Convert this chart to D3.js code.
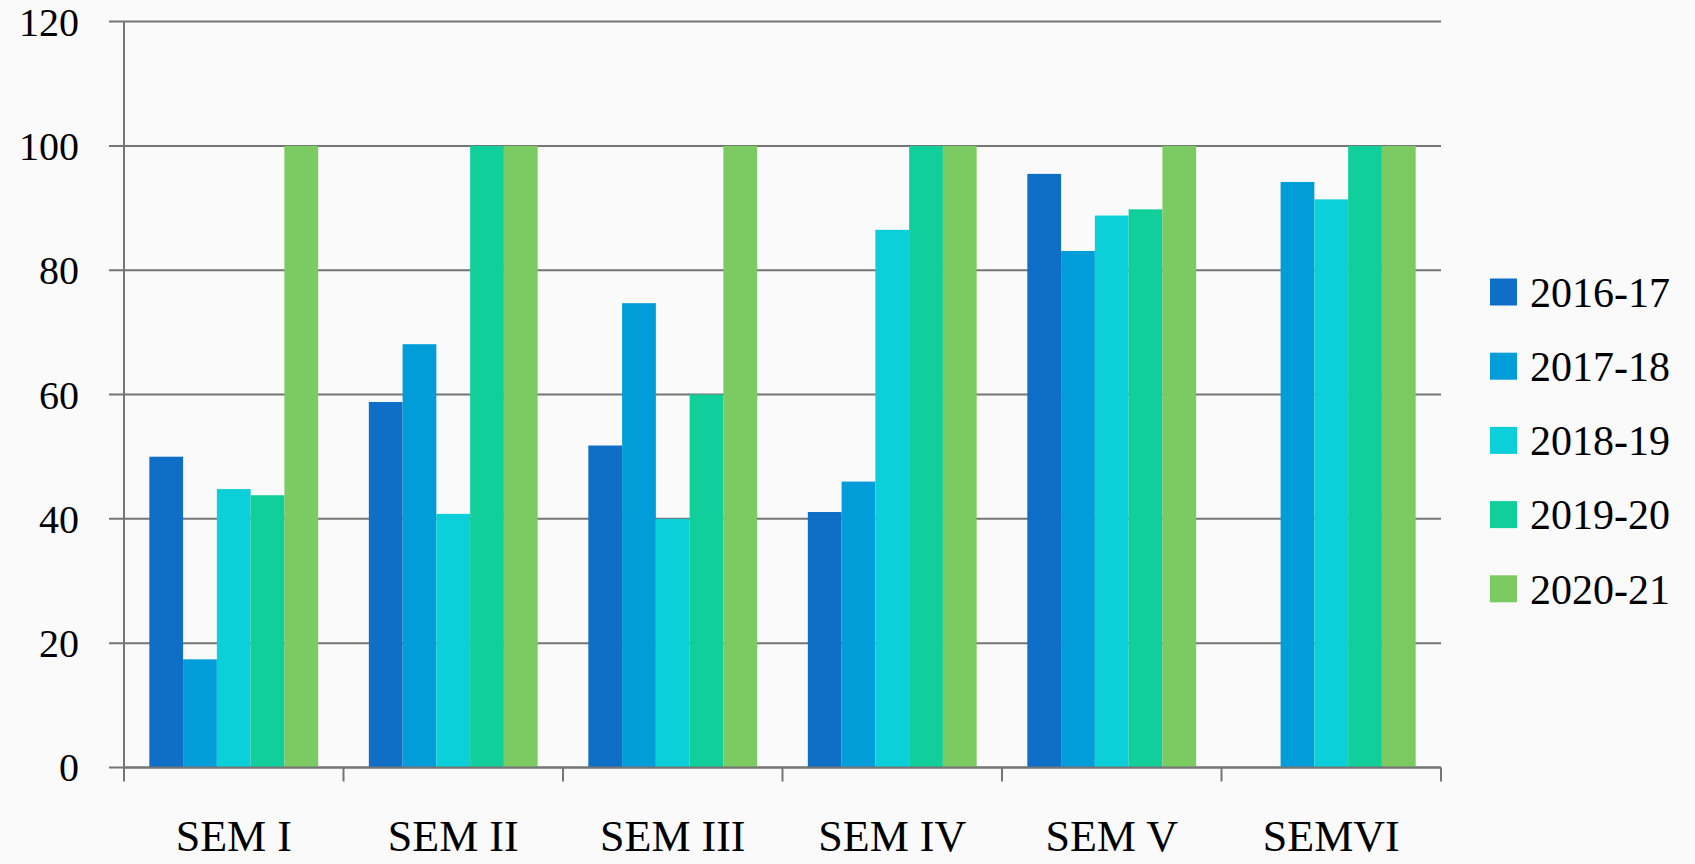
<!DOCTYPE html>
<html>
<head>
<meta charset="utf-8">
<script src="https://cdn.jsdelivr.net/npm/d3@7"></script>
<style>
  html, body { margin: 0; padding: 0; background: #fafafa; }
  svg { display: block; }
  text { font-family: "Liberation Serif", "DejaVu Serif", serif; fill: #000; }
</style>
</head>
<body>
<svg id="chart" width="1695" height="864"></svg>
<script>
// categories + series
var semesters = ["SEM I", "SEM II", "SEM III", "SEM IV", "SEM V", "SEMVI"];
var years = ["2016-17", "2017-18", "2018-19", "2019-20", "2020-21"];
var colors = ["#0f6fc6", "#009dd9", "#0bd0d9", "#10cf9b", "#7cca62"];
var yTicks = [0, 20, 40, 60, 80, 100, 120];

var v2016 = [50, 58.8, 51.8, 41.1, 95.5, null];
var v2017 = [17.4, 68.1, 74.7, 46.0, 83.1, 94.2];
var v2018 = [44.8, 40.8, 40, 86.5, 88.8, 91.4];
var v2019 = [43.8, 100, 60, 100, 89.8, 100];
var v2020 = [100, 100, 100, 100, 100, 100];

var seriesValues = [v2016, v2017, v2018, v2019, v2020];

var svg = d3.select("#chart");
var margin = {top: 21.6, right: 254, bottom: 96.5, left: 124},
    width = 1695 - margin.left - margin.right,
    height = 864 - margin.top - margin.bottom;

var g = svg.append("g")
    .attr("transform", "translate(" + margin.left + "," + margin.top + ")");

var x0 = d3.scaleBand()
    .domain(semesters)
    .range([0, width])
    .padding(0);

// gap width of 150% like the office default
var inset = x0.bandwidth() * 0.75 / 6.5;
var x1 = d3.scaleBand()
    .domain(years)
    .range([inset, x0.bandwidth() - inset]);

var y = d3.scaleLinear()
    .domain([0, 120])
    .range([height, 0]);

var color = d3.scaleOrdinal().domain(years).range(colors);

// gridlines
g.selectAll("line.grid")
    .data(yTicks)
    .enter().append("line")
    .attr("class", "grid")
    .attr("x1", -15)
    .attr("x2", width)
    .attr("y1", function(d) { return y(d); })
    .attr("y2", function(d) { return y(d); })
    .style("stroke", "#757575")
    .style("stroke-width", 2);

// y labels
g.selectAll("text.ylab")
    .data(yTicks)
    .enter().append("text")
    .attr("class", "ylab")
    .attr("x", -45)
    .attr("y", function(d) { return y(d); })
    .attr("dy", "0.35em")
    .attr("text-anchor", "end")
    .style("font-size", "40px")
    .text(function(d) { return d; });

// bars
var rows = [];
semesters.forEach(function(s, i) {
    years.forEach(function(yr, j) {
        if (seriesValues[j][i] != null) rows.push({sem: s, year: yr, value: seriesValues[j][i]});
    });
});

g.selectAll("rect.bar")
    .data(rows)
    .enter().append("rect")
    .attr("class", "bar")
    .attr("x", function(d) { return x0(d.sem) + x1(d.year); })
    .attr("width", x1.bandwidth())
    .attr("y", function(d) { return y(d.value); })
    .attr("height", function(d) { return height - y(d.value); })
    .style("fill", function(d) { return color(d.year); });

// y axis line
g.append("line")
    .attr("x1", 0).attr("x2", 0)
    .attr("y1", 0).attr("y2", height)
    .style("stroke", "#757575")
    .style("stroke-width", 2);

// x axis + ticks between categories
g.append("line")
    .attr("x1", 0).attr("x2", width)
    .attr("y1", height).attr("y2", height)
    .style("stroke", "#757575")
    .style("stroke-width", 2);

var bounds = semesters.map(function(s) { return x0(s); }).concat([width]);
g.selectAll("line.xtick")
    .data(bounds)
    .enter().append("line")
    .attr("class", "xtick")
    .attr("x1", function(d) { return d; })
    .attr("x2", function(d) { return d; })
    .attr("y1", height)
    .attr("y2", height + 14)
    .style("stroke", "#757575")
    .style("stroke-width", 2);

g.selectAll("text.xlab")
    .data(semesters)
    .enter().append("text")
    .attr("class", "xlab")
    .attr("x", function(d) { return x0(d) + x0.bandwidth() / 2; })
    .attr("y", height + 84)
    .attr("text-anchor", "middle")
    .style("font-size", "44px")
    .text(function(d) { return d; });

// legend
var legend = svg.append("g")
    .attr("transform", "translate(1490,292)");

var item = legend.selectAll("g.item")
    .data(years)
    .enter().append("g")
    .attr("class", "item")
    .attr("transform", function(d, i) { return "translate(0," + (i * 74.2) + ")"; });

item.append("rect")
    .attr("x", 0)
    .attr("y", -13.5)
    .attr("width", 27)
    .attr("height", 27)
    .style("fill", function(d) { return color(d); });

item.append("text")
    .attr("x", 40)
    .attr("y", 0)
    .attr("dy", "0.35em")
    .style("font-size", "42px")
    .text(function(d) { return d; });
</script>
</body>
</html>
